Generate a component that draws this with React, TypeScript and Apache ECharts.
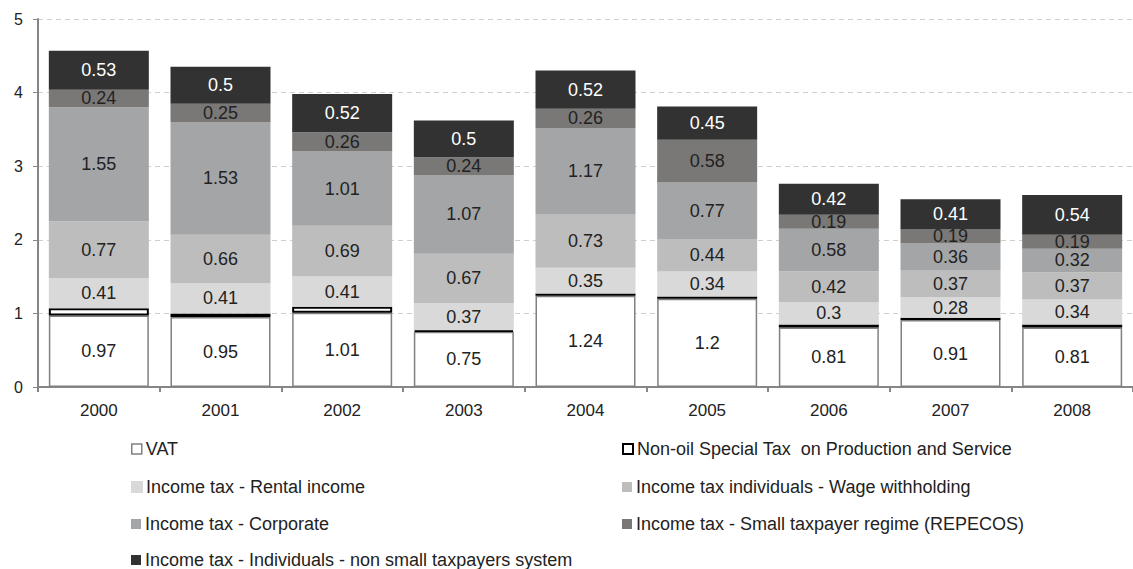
import React, { useEffect, useRef } from "react";
import * as echarts from "echarts";

const years = ["2000", "2001", "2002", "2003", "2004", "2005", "2006", "2007", "2008"];
const vat = [0.97, 0.95, 1.01, 0.75, 1.24, 1.2, 0.81, 0.91, 0.81];
const nonOil = [0.1, 0.05, 0.08, 0.02, 0.03, 0.03, 0.04, 0.03, 0.04];
const rental = [0.41, 0.41, 0.41, 0.37, 0.35, 0.34, 0.3, 0.28, 0.34];
const wage = [0.77, 0.66, 0.69, 0.67, 0.73, 0.44, 0.42, 0.37, 0.37];
const corporate = [1.55, 1.53, 1.01, 1.07, 1.17, 0.77, 0.58, 0.36, 0.32];
const repecos = [0.24, 0.25, 0.26, 0.24, 0.26, 0.58, 0.19, 0.19, 0.19];
const nonSmall = [0.53, 0.5, 0.52, 0.5, 0.52, 0.45, 0.42, 0.41, 0.54];

const names = [
  "VAT",
  "Non-oil Special Tax  on Production and Service",
  "Income tax - Rental income",
  "Income tax individuals - Wage withholding",
  "Income tax - Corporate",
  "Income tax - Small taxpayer regime (REPECOS)",
  "Income tax - Individuals - non small taxpayers system",
];

const FONT = "'Liberation Sans', Arial, sans-serif";

export default function App() {
  const ref = useRef<HTMLDivElement>(null);
  useEffect(() => {
    if (!ref.current) return;
    const chart = echarts.init(ref.current, undefined, { renderer: "svg" });
    const label = (color: string) => ({
      show: true,
      position: "inside",
      color,
      fontSize: 18,
      fontFamily: FONT,
      formatter: (p: any) => String(p.value),
    });
    const mk = (name: string, data: number[], itemStyle: any, lbl: any) => ({
      name,
      type: "bar",
      stack: "total",
      data,
      barWidth: 100,
      itemStyle,
      label: lbl,
      emphasis: { disabled: true },
    });
    const series = [
      mk(names[0], vat, { color: "#ffffff", borderColor: "#808080", borderWidth: 1.5 }, label("#222")),
      mk(names[1], nonOil, { color: "#ffffff", borderColor: "#000000", borderWidth: 2 }, { show: false }),
      mk(names[2], rental, { color: "#d9d9d9", borderColor: "#d9d9d9", borderWidth: 2 }, label("#222")),
      mk(names[3], wage, { color: "#bdbdbd" }, label("#222")),
      mk(names[4], corporate, { color: "#a4a5a7" }, label("#222")),
      mk(names[5], repecos, { color: "#7a7876" }, label("#222")),
      mk(names[6], nonSmall, { color: "#323232" }, label("#ffffff")),
    ];
    const legendPos = [
      { left: 131, top: 440 },
      { left: 622, top: 440 },
      { left: 131, top: 478 },
      { left: 622, top: 478 },
      { left: 131, top: 515 },
      { left: 622, top: 515 },
      { left: 131, top: 551 },
    ];
    const legendStyles: any[] = [
      { color: "#ffffff", borderColor: "#808080", borderWidth: 1.5 },
      { color: "#ffffff", borderColor: "#000000", borderWidth: 2 },
      { color: "#d9d9d9" },
      { color: "#bdbdbd" },
      { color: "#a4a5a7" },
      { color: "#7a7876" },
      { color: "#323232" },
    ];
    const legend = names.map((n, i) => ({
      data: [{ name: n, itemStyle: legendStyles[i] }],
      left: legendPos[i].left,
      top: legendPos[i].top,
      icon: "rect",
      itemWidth: 10,
      itemHeight: 10,
      itemGap: 0,
      padding: 0,
      selectedMode: false,
      textStyle: { fontSize: 18, color: "#222", fontFamily: FONT, padding: [0, 0, 0, -1] },
    }));
    chart.setOption({
      animation: false,
      textStyle: { fontFamily: FONT },
      grid: { left: 38, top: 19, right: -11, bottom: 182, containLabel: false },
      legend,
      xAxis: {
        type: "category",
        data: years,
        axisLine: { lineStyle: { color: "#868686", width: 2 } },
        axisTick: { show: true, length: 5, lineStyle: { color: "#868686", width: 2 } },
        axisLabel: { fontSize: 17, color: "#222", margin: 15, fontFamily: FONT },
      },
      yAxis: {
        type: "value",
        min: 0,
        max: 5,
        interval: 1,
        axisLine: { show: true, lineStyle: { color: "#868686", width: 2 } },
        axisTick: { show: true, length: 5, lineStyle: { color: "#868686", width: 1 } },
        axisLabel: { fontSize: 16, color: "#222", margin: 15, fontFamily: FONT },
        splitLine: { lineStyle: { color: "#cfcfcf", type: [5, 4], width: 1 } },
      },
      series,
    });
    return () => chart.dispose();
  }, []);
  return (
    <div
      ref={ref}
      style={{ position: "fixed", left: 0, top: 0, width: 1133, height: 569, background: "#fff" }}
    />
  );
}
